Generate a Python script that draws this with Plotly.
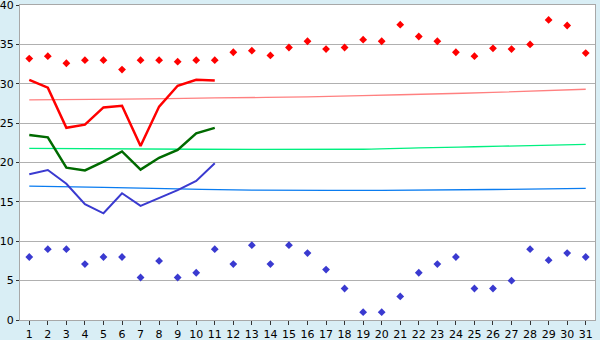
import plotly.graph_objects as go

days = list(range(1, 32))
day_labels = [str(d) for d in days]

max_temp = [33.2, 33.5, 32.6, 33.0, 33.0, 31.8, 33.0, 33.0, 32.8, 33.0,
            33.0, 34.0, 34.2, 33.6, 34.6, 35.4, 34.4, 34.6, 35.6, 35.4,
            37.5, 36.0, 35.4, 34.0, 33.5, 34.5, 34.4, 35.0, 38.1, 37.4, 33.9]
min_temp = [8.0, 9.0, 9.0, 7.1, 8.0, 8.0, 5.4, 7.5, 5.4, 6.0,
            9.0, 7.1, 9.5, 7.1, 9.5, 8.5, 6.4, 4.0, 1.0, 1.0,
            3.0, 6.0, 7.1, 8.0, 4.0, 4.0, 5.0, 9.0, 7.6, 8.5, 8.0]

cur_days = list(range(1, 12))
cur_max = [30.5, 29.5, 24.4, 24.8, 27.0, 27.2, 22.1, 27.1, 29.75, 30.5, 30.4]
cur_mean = [23.5, 23.2, 19.35, 19.0, 20.1, 21.4, 19.1, 20.6, 21.6, 23.7, 24.4]
cur_min = [18.5, 19.05, 17.3, 14.7, 13.55, 16.1, 14.5, 15.45, 16.5, 17.65, 19.9]

trend_max_days = [1, 6, 11, 16, 21, 26, 31]
trend_max = [27.94, 28.04, 28.2, 28.33, 28.6, 28.9, 29.3]
trend_mean_days = [1, 10, 19, 22, 25, 28, 31]
trend_mean = [21.8, 21.68, 21.68, 21.85, 22.0, 22.15, 22.3]
trend_min_days = [1, 5, 9, 13, 20, 26, 31]
trend_min = [17.0, 16.85, 16.65, 16.5, 16.47, 16.57, 16.72]

fig = go.Figure()

fig.add_trace(go.Scatter(x=trend_max_days, y=trend_max, mode="lines",
                         line=dict(color="#FF8080", width=1.3, shape="spline")))
fig.add_trace(go.Scatter(x=trend_mean_days, y=trend_mean, mode="lines",
                         line=dict(color="#00F080", width=1.3, shape="spline")))
fig.add_trace(go.Scatter(x=trend_min_days, y=trend_min, mode="lines",
                         line=dict(color="#0A7CF0", width=1.3, shape="spline")))

fig.add_trace(go.Scatter(x=cur_days, y=cur_max, mode="lines",
                         line=dict(color="#FF0000", width=2.5)))
fig.add_trace(go.Scatter(x=cur_days, y=cur_mean, mode="lines",
                         line=dict(color="#006A00", width=2.5)))
fig.add_trace(go.Scatter(x=cur_days, y=cur_min, mode="lines",
                         line=dict(color="#3A3AD0", width=2)))

fig.add_trace(go.Scatter(x=days, y=max_temp, mode="markers",
                         marker=dict(symbol="diamond", size=6, color="#FF0000")))
fig.add_trace(go.Scatter(x=days, y=min_temp, mode="markers",
                         marker=dict(symbol="diamond", size=6, color="#3A3AD0")))

fig.update_layout(
    width=600, height=340,
    margin=dict(l=20, r=5, t=5, b=20),
    paper_bgcolor="#D9EEF5",
    plot_bgcolor="#FFFFFF",
    showlegend=False,
    font=dict(family="DejaVu Sans", size=11, color="#000000"),
)
fig.update_xaxes(range=[0.5, 31.5], tickvals=days, ticktext=day_labels,
                 showgrid=False, zeroline=False, automargin=False,
                 ticklabeloverflow="allow",
                 showline=True, linecolor="#A8A8A8", linewidth=1, mirror=True,
                 ticks="outside", ticklen=4, tickcolor="#333333",
                 tickfont=dict(size=11))
fig.update_yaxes(range=[0, 40], dtick=5, showgrid=True, gridcolor="#B0B0B0",
                 gridwidth=1, zeroline=False, automargin=False,
                 ticklabeloverflow="allow",
                 showline=True, linecolor="#A8A8A8", linewidth=1, mirror=True,
                 ticks="outside", ticklen=3, tickcolor="#333333",
                 tickfont=dict(size=11))

fig.write_html("out.html")
